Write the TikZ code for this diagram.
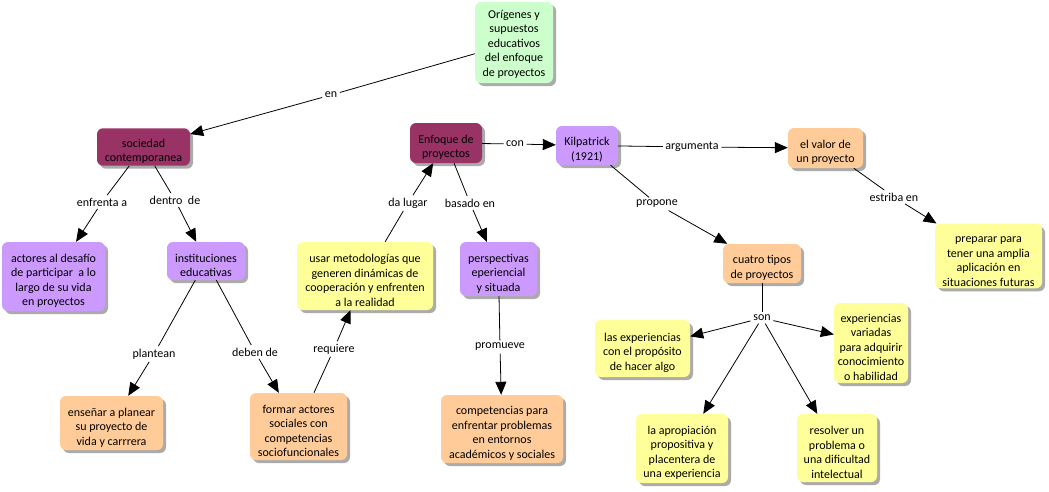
\documentclass[tikz,border=0pt]{standalone}
\usepackage{fontspec}
\setmainfont{Carlito}
\usetikzlibrary{shadows,arrows.meta}
\definecolor{cgreen}{HTML}{CCFFCC}
\definecolor{cmag}{HTML}{993366}
\definecolor{cpurp}{HTML}{CC99FF}
\definecolor{cpeach}{HTML}{FFCC99}
\definecolor{cyel}{HTML}{FFFF99}
\newcommand{\tp}{\rule{0pt}{17pt}}
\tikzset{
  concept/.style={rounded corners=6pt, align=center, inner sep=2pt,
    font=\fontsize{12}{14.5}\selectfont,
    drop shadow={shadow xshift=3pt, shadow yshift=-3pt, fill=black!55, opacity=0.6}},
  cbox/.style 2 args={concept, minimum width=#1, minimum height=#2},
  lbl/.style={inner sep=2.5pt, font=\fontsize{12}{14.5}\selectfont},
  link/.style={line width=0.8pt, draw=black},
  arr/.style={link, -{Triangle[length=13pt,width=11pt]}}
}
\begin{document}
\begin{tikzpicture}[x=1pt,y=-1pt]
\useasboundingbox[fill=white] (0,0) rectangle (1049,491);
% concepts
\node[cbox={78pt}{81pt}, fill=cgreen] (orig) at (514,42.5) {\rule{0pt}{11pt}Orígenes y\\supuestos\\educativos\\del enfoque\\de proyectos};
\node[cbox={93pt}{37pt}, fill=cmag] (soc) at (143.5,147) {\tp sociedad\\contemporanea};
\node[cbox={72pt}{40pt}, fill=cmag] (enf) at (446,143) {\tp Enfoque de\\proyectos};
\node[cbox={62pt}{39pt}, fill=cpurp] (kil) at (587,145.5) {\tp Kilpatrick\\(1921)};
\node[cbox={75pt}{40pt}, fill=cpeach] (val) at (825.5,148) {\tp el valor de\\un proyecto};
\node[cbox={103pt}{69pt}, fill=cpurp] (act) at (53.5,276.5) {\tp actores al desafío\\de participar \ a lo\\largo de su vida\\en proyectos};
\node[cbox={78pt}{38pt}, fill=cpurp] (inst) at (206,261) {\tp instituciones\\educativas};
\node[cbox={136pt}{68pt}, fill=cyel] (usar) at (365,276) {\tp usar metodologías que\\generen dinámicas de\\cooperación y enfrenten\\a la realidad};
\node[cbox={77pt}{54pt}, fill=cpurp] (persp) at (498.5,269) {\tp perspectivas\\eperiencial\\y situada};
\node[cbox={78pt}{39pt}, fill=cpeach] (cuat) at (762,263.5) {\tp cuatro tipos\\de proyectos};
\node[cbox={107pt}{64pt}, fill=cyel] (prep) at (988.5,256) {\tp preparar para\\tener una amplia\\aplicación en\\situaciones futuras};
\node[cbox={103pt}{54pt}, fill=cpeach] (ens) at (111.5,423) {\tp enseñar a planear\\su proyecto de\\vida y carrrera};
\node[cbox={97pt}{67pt}, fill=cpeach] (form) at (298.5,426.5) {\tp formar actores\\sociales con\\competencias\\sociofuncionales};
\node[cbox={122pt}{68pt}, fill=cpeach] (comp) at (502,429) {\tp competencias para\\enfrentar problemas\\en entornos\\académicos y sociales};
\node[cbox={95pt}{57pt}, fill=cyel] (lexp) at (642.5,348.5) {\tp las experiencias\\con el propósito\\de hacer algo};
\node[cbox={74pt}{80pt}, fill=cyel] (var) at (871,343) {\tp experiencias\\variadas\\para adquirir\\conocimiento\\o habilidad};
\node[cbox={92pt}{69pt}, fill=cyel] (apro) at (682,448.5) {\tp la apropiación\\propositiva y\\placentera de\\una experiencia};
\node[cbox={80pt}{68pt}, fill=cyel] (res) at (837,448) {\tp resolver un\\problema o\\una dificultad\\intelectual};
% link labels
\node[lbl] (l_en) at (331,95) {en};
\node[lbl] (l_enf) at (102,202) {enfrenta a};
\node[lbl] (l_dent) at (175,200) {dentro \ de};
\node[lbl] (l_plan) at (154,354) {plantean};
\node[lbl] (l_deb) at (255,352) {deben de};
\node[lbl] (l_req) at (334,349) {requiere};
\node[lbl] (l_da) at (408,203) {da lugar};
\node[lbl] (l_bas) at (470,203) {basado en};
\node[lbl] (l_prom) at (500,347) {promueve};
\node[lbl] (l_con) at (515,144) {con};
\node[lbl] (l_arg) at (692,147) {argumenta};
\node[lbl] (l_prop) at (657,204) {propone};
\node[lbl] (l_est) at (894,197) {estriba en};
\node[lbl] (l_son) at (762,318) {son};
% links
\draw[link] (orig) -- (l_en); \draw[arr] (l_en) -- (soc);
\draw[link] (soc) -- (l_enf); \draw[arr] (l_enf) -- (act);
\draw[link] (soc) -- (l_dent); \draw[arr] (l_dent) -- (inst);
\draw[link] (inst) -- (l_plan); \draw[arr] (l_plan) -- (ens);
\draw[link] (inst) -- (l_deb); \draw[arr] (l_deb) -- (form);
\draw[link] (form) -- (l_req); \draw[arr] (l_req) -- (usar);
\draw[link] (usar) -- (l_da); \draw[arr] (l_da) -- (enf);
\draw[link] (enf) -- (l_bas); \draw[arr] (l_bas) -- (persp);
\draw[link] (persp) -- (l_prom); \draw[arr] (l_prom) -- (comp);
\draw[link] (enf) -- (l_con); \draw[arr] (l_con) -- (kil);
\draw[link] (kil) -- (l_arg); \draw[arr] (l_arg) -- (val);
\draw[link] (kil) -- (l_prop); \draw[arr] (l_prop) -- (cuat);
\draw[link] (val) -- (l_est); \draw[arr] (l_est) -- (prep);
\draw[link] (cuat) -- (l_son);
\draw[arr] (l_son) -- (lexp);
\draw[arr] (l_son) -- (var);
\draw[arr] (l_son) -- (apro);
\draw[arr] (l_son) -- (res);
\end{tikzpicture}
\end{document}
